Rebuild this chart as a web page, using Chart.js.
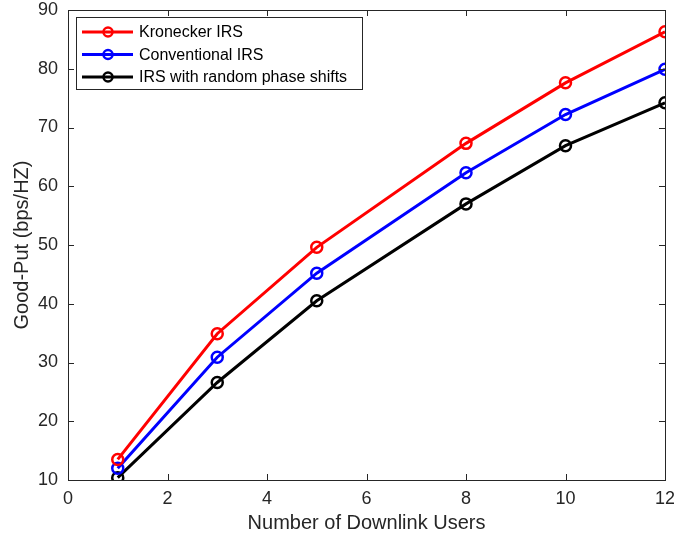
<!DOCTYPE html>
<html>
<head>
<meta charset="utf-8">
<script src="https://cdn.jsdelivr.net/npm/chart.js@4"></script>
<style>
  body { margin: 0; background: #fff; }
  #wrap { width: 674px; height: 539px; }
</style>
</head>
<body>
<div id="wrap"><canvas id="myChart" width="674" height="539"></canvas></div>
<script>
const users = [1, 3, 5, 8, 10, 12];
const kronecker = [13.5, 34.9, 49.6, 67.3, 77.6, 86.3];
const conventional = [12.0, 30.9, 45.2, 62.3, 72.2, 79.9];
const randomPhase = [10.4, 26.6, 40.5, 57.0, 66.9, 74.2];
const xTicks = [0, 2, 4, 6, 8, 10, 12];
const yTicks = [10, 20, 30, 40, 50, 60, 70, 80, 90];

const font = "'Liberation Sans', Arial, sans-serif";

function pts(ys) { return users.map((x, i) => ({ x: x, y: ys[i] })); }

function series(label, ys, color) {
    return {
        label: label, data: pts(ys), borderColor: color, backgroundColor: 'rgba(0,0,0,0)',
        borderWidth: 3, pointRadius: 5.5, pointBorderWidth: 2.5, pointStyle: 'circle',
        pointBackgroundColor: 'rgba(0,0,0,0)', pointBorderColor: color, tension: 0
    };
}

// box, inward ticks and legend, matlab style
const boxPlugin = {
    id: 'box',
    afterDraw(chart) {
        let c = chart.ctx, a = chart.chartArea;
        let xs = chart.scales.x, ys = chart.scales.y;
        c.save();
        c.strokeStyle = '#262626';
        c.lineWidth = 1;
        c.strokeRect(a.left + 0.5, a.top + 0.5, a.right - a.left, a.bottom - a.top);
        c.beginPath();
        xTicks.forEach(v => {
            let px = Math.round(xs.getPixelForValue(v)) + 0.5;
            c.moveTo(px, a.bottom); c.lineTo(px, a.bottom - 6);
            c.moveTo(px, a.top); c.lineTo(px, a.top + 6);
        });
        yTicks.forEach(v => {
            let py = Math.round(ys.getPixelForValue(v)) + 0.5;
            c.moveTo(a.left, py); c.lineTo(a.left + 6, py);
            c.moveTo(a.right, py); c.lineTo(a.right - 6, py);
        });
        c.stroke();

        // legend
        let lx = 76, ly = 17, lw = 286, lh = 72;
        c.fillStyle = '#fff';
        c.fillRect(lx, ly, lw, lh);
        c.strokeStyle = '#262626';
        c.strokeRect(lx + 0.5, ly + 0.5, lw, lh);
        c.font = '16px ' + font;
        c.textBaseline = 'middle';
        chart.data.datasets.forEach((d, i) => {
            let y = ly + 15 + i * 22.5;
            c.strokeStyle = d.borderColor;
            c.lineWidth = 3;
            c.beginPath(); c.moveTo(lx + 6, y); c.lineTo(lx + 57, y); c.stroke();
            c.lineWidth = 2.5;
            c.beginPath(); c.arc(lx + 32, y, 4.5, 0, Math.PI * 2); c.stroke();
            c.fillStyle = '#000';
            c.fillText(d.label, lx + 63, y + 1);
        });
        c.restore();
    }
};

new Chart(document.getElementById('myChart'), {
    type: 'line',
    data: {
        datasets: [
            series('Kronecker IRS', kronecker, '#ff0000'),
            series('Conventional IRS', conventional, '#0000ff'),
            series('IRS with random phase shifts', randomPhase, '#000000')
        ]
    },
    options: {
        responsive: false,
        animation: false,
        layout: { padding: { left: 0, top: 10, right: 9, bottom: 0 } },
        plugins: { legend: { display: false }, tooltip: { enabled: false } },
        scales: {
            x: {
                type: 'linear', min: 0, max: 12,
                afterBuildTicks: s => { s.ticks = xTicks.map(v => ({ value: v })); },
                afterFit: s => { s.height = 59; s.paddingLeft = 0; s.paddingRight = 0; },
                grid: { display: false },
                border: { display: false },
                ticks: { color: '#262626', font: { family: font, size: 18 }, padding: 0, maxRotation: 0 },
                title: { display: true, text: 'Number of Downlink Users', color: '#262626', font: { family: font, size: 20 }, padding: { top: 0, bottom: 4 } }
            },
            y: {
                min: 10, max: 90,
                afterBuildTicks: s => { s.ticks = yTicks.map(v => ({ value: v })); },
                afterFit: s => { s.width = 68; s.paddingTop = 0; s.paddingBottom = 0; },
                grid: { display: false },
                border: { display: false },
                ticks: { color: '#262626', font: { family: font, size: 18 }, padding: 2 },
                title: { display: true, text: 'Good-Put (bps/HZ)', color: '#262626', font: { family: font, size: 20 }, padding: { top: 10, bottom: 0 } }
            }
        }
    },
    plugins: [boxPlugin]
});
</script>
</body>
</html>
